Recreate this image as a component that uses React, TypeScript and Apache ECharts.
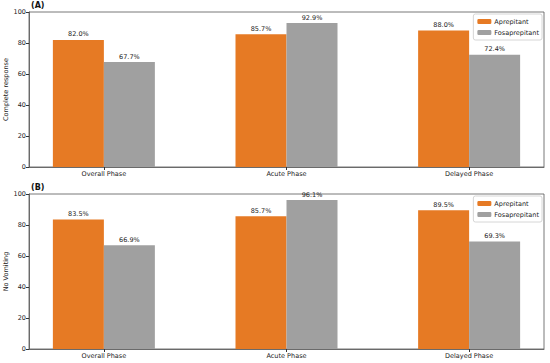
import React, { useEffect, useRef } from "react";
import * as echarts from "echarts";

const categories = ["Overall Phase", "Acute Phase", "Delayed Phase"];
const seriesNames = ["Aprepitant", "Fosaprepitant"];
const crAprepitant = [82.0, 85.7, 88.0];
const crFosaprepitant = [67.7, 92.9, 72.4];
const nvAprepitant = [83.5, 85.7, 89.5];
const nvFosaprepitant = [66.9, 96.1, 69.3];
const yTicks = [0, 20, 40, 60, 80, 100];
const panelTitles = ["(A)", "(B)"];
const yNames = ["Complete response", "No Vomiting"];

const ORANGE = "#E67A24";
const GRAY = "#A0A0A0";
const FONT = "DejaVu Sans";

export default function App() {
  const ref = useRef<HTMLDivElement>(null);
  useEffect(() => {
    if (!ref.current) return;
    const chart = echarts.init(ref.current, null, { renderer: "svg" });
    const grids = [
      { left: 29, right: 6, top: 12, height: 155 },
      { left: 29, right: 6, top: 194, height: 155 },
    ];
    const mk = (arr: number[]) => arr.map((v, i) => [i, v]);
    const panels = [
      [crAprepitant, crFosaprepitant],
      [nvAprepitant, nvFosaprepitant],
    ];
    const series: any[] = [];
    panels.forEach((p, gi) => {
      p.forEach((vals, si) => {
        series.push({
          type: "bar",
          name: seriesNames[si],
          xAxisIndex: gi,
          yAxisIndex: gi,
          data: mk(vals),
          barWidth: 51,
          barGap: "0%",
          itemStyle: { color: si === 0 ? ORANGE : GRAY },
          label: {
            show: true,
            position: "top",
            distance: 2,
            fontFamily: FONT,
            fontSize: 6.5,
            color: "#222",
            formatter: (q: any) => q.value[1].toFixed(1) + "%",
          },
        });
      });
    });
    const option: any = {
      animation: false,
      textStyle: { fontFamily: FONT },
      title: panelTitles.map((t, i) => ({
        text: t,
        left: 31,
        top: i === 0 ? 1 : 183,
        padding: 0,
        textStyle: { fontFamily: FONT, fontSize: 8, fontWeight: "bold", color: "#111" },
      })),
      legend: [0, 1].map((i) => ({
        data: seriesNames,
        orient: "vertical",
        right: 8,
        top: i === 0 ? 14 : 196,
        itemWidth: 14,
        itemHeight: 5,
        itemGap: 4,
        padding: [4, 3, 4, 4],
        borderColor: "#cccccc",
        borderWidth: 0.8,
        borderRadius: 2,
        backgroundColor: "#fff",
        textStyle: { fontFamily: FONT, fontSize: 6.5, color: "#222", padding: [0, 0, 0, -2] },
      })),
      grid: grids.map((g) => ({
        ...g,
        outerBoundsMode: "none",
        containLabel: false,
        show: true,
        borderColor: "#555",
        borderWidth: 0.8,
        backgroundColor: "transparent",
      })),
      xAxis: [0, 1].map((i) => ({
        type: "value",
        gridIndex: i,
        min: -0.41,
        max: 2.41,
        splitLine: { show: false },
        axisLine: { show: true, onZero: false, lineStyle: { color: "#555", width: 0.8 } },
        axisTick: { show: true, customValues: [0, 1, 2], length: 3, lineStyle: { color: "#333" } },
        axisLabel: {
          customValues: [0, 1, 2],
          formatter: (v: number) => categories[Math.round(v)],
          fontFamily: FONT,
          fontSize: 6.5,
          color: "#222",
          margin: 3,
        },
      })),
      yAxis: [0, 1].map((i) => ({
        type: "value",
        gridIndex: i,
        min: 0,
        max: 100,
        interval: 20,
        name: yNames[i],
        nameLocation: "middle",
        nameGap: 20,
        nameMoveOverlap: false,
        nameTextStyle: { fontFamily: FONT, fontSize: 6.5, color: "#222" },
        splitLine: { show: false },
        axisLine: { show: true, onZero: false, lineStyle: { color: "#555", width: 0.8 } },
        axisTick: { show: true, length: 3, lineStyle: { color: "#333" } },
        axisLabel: {
          fontFamily: FONT,
          fontSize: 6.5,
          color: "#222",
          margin: 3,
          customValues: yTicks,
        },
      })),
      series,
    };
    chart.setOption(option);
    return () => chart.dispose();
  }, []);
  return <div ref={ref} style={{ width: 550, height: 363, position: "absolute", left: 0, top: 0, background: "#fff" }} />;
}
